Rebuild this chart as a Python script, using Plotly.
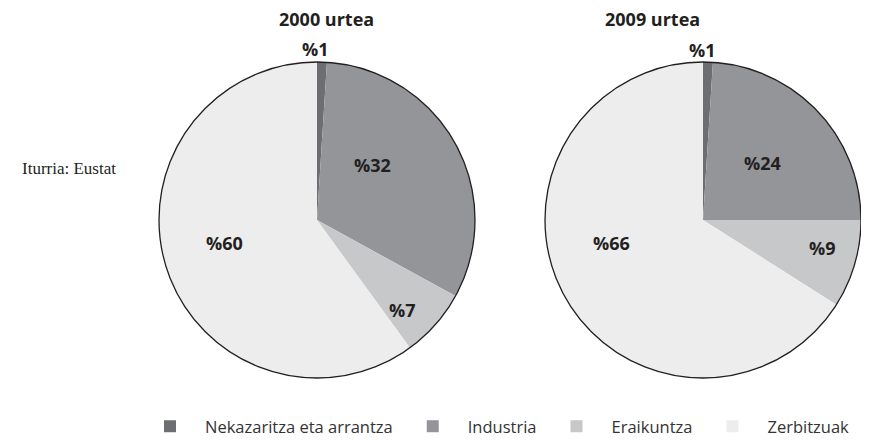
import plotly.graph_objects as go

categories = ["Nekazaritza eta arrantza", "Industria", "Eraikuntza", "Zerbitzuak"]
values_2000 = [1, 32, 7, 60]
values_2009 = [1, 24, 9, 66]
titles = ["2000 urtea", "2009 urtea"]
colors = ["#6d6e71", "#939598", "#c7c8ca", "#ededee"]
source_text = "Iturria: Eustat"

# page has an 8px body margin: figure pixel = screen pixel - 8
OFF = 8
W, H = 869 - OFF, 444 - OFF
R = 158
centers = [(317 - OFF, 220 - OFF), (703 - OFF, 220 - OFF)]
title_x = [326 - OFF, 702 - OFF]
# label positions (screen px) for each slice of each pie
label_pos = [
    [(315, 49), (372, 165), (402, 310), (225, 243)],
    [(702, 50), (762, 163), (822, 248), (611, 243)],
]

def px(x, y):
    return x / W, 1 - y / H

def dom(cx, cy):
    return dict(x=[(cx - R) / W, (cx + R) / W],
                y=[1 - (cy + R) / H, 1 - (cy - R) / H])

fig = go.Figure()
for i, vals in enumerate([values_2000, values_2009]):
    d = dom(*centers[i])
    fig.add_trace(go.Pie(
        labels=categories, values=vals, sort=False, direction="clockwise",
        rotation=0, domain=d,
        marker=dict(colors=colors, line=dict(width=0)),
        textinfo="none", showlegend=(i == 0), hoverinfo="label+value",
    ))
    fig.add_trace(go.Pie(
        labels=["outline"], values=[1], domain=d, sort=False,
        marker=dict(colors=["rgba(0,0,0,0)"], line=dict(color="#231f20", width=1.3)),
        textinfo="none", hoverinfo="skip", showlegend=False,
    ))
    tx, ty = px(title_x[i], 19 - OFF)
    fig.add_annotation(x=tx, y=ty, xref="paper", yref="paper", yanchor="middle",
                       text="<b>" + titles[i] + "</b>", showarrow=False,
                       font=dict(family="Open Sans", size=18, color="#231f20"))
    for v, (lx, ly) in zip(vals, label_pos[i]):
        ax, ay = px(lx - OFF, ly - OFF)
        fig.add_annotation(x=ax, y=ay, xref="paper", yref="paper",
                           xanchor="center", yanchor="middle",
                           text="<b>%" + str(v) + "</b>", showarrow=False,
                           font=dict(family="Open Sans", size=18, color="#231f20"))

sx, sy = px(118 - OFF, 168 - OFF)
fig.add_annotation(x=sx, y=sy, xref="paper", yref="paper",
                   text=source_text, showarrow=False, xanchor="right", yanchor="middle",
                   font=dict(family="Liberation Serif", size=17, color="#231f20"))

lx = (135 - OFF) / W
fig.update_layout(
    width=W, height=H, margin=dict(l=0, r=0, t=0, b=0),
    paper_bgcolor="white", plot_bgcolor="white",
    legend=dict(orientation="h", x=lx, xanchor="left", y=0, yanchor="bottom",
                font=dict(family="Open Sans", size=16.5, color="#333333"),
                traceorder="normal", itemwidth=60),
)
fig.write_html("out.html")
